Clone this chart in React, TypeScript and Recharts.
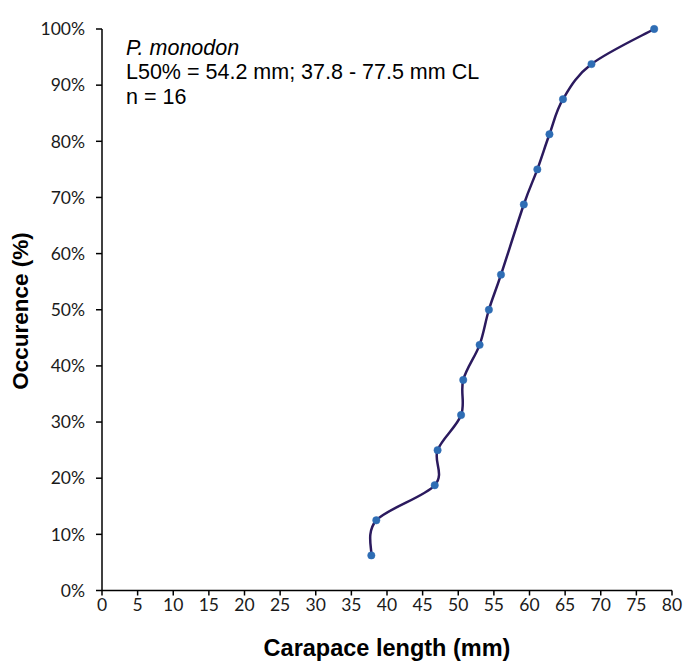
import React from 'react';
import { LineChart, Line, XAxis, YAxis } from 'recharts';

const lengths = [37.8, 38.5, 46.7, 47.1, 50.4, 50.7, 53.0, 54.3, 56.0, 59.2, 61.1, 62.8, 64.7, 68.7, 77.5];
const occurrence = [6.25, 12.5, 18.75, 25, 31.25, 37.5, 43.75, 50, 56.25, 68.75, 75, 81.25, 87.5, 93.75, 100];
const xTicks = [0, 5, 10, 15, 20, 25, 30, 35, 40, 45, 50, 55, 60, 65, 70, 75, 80];
const yTicks = [0, 10, 20, 30, 40, 50, 60, 70, 80, 90, 100];
const annotation = ['P. monodon', 'L50% = 54.2 mm; 37.8 - 77.5 mm CL', 'n = 16'];
const xTitle = 'Carapace length (mm)';
const yTitle = 'Occurence (%)';

const data = lengths.map((x, i) => ({ x, y: occurrence[i] }));

// Excel-like smoothed line (Catmull-Rom through points)
const smoothCurve = (context: any) => {
  let pts: number[][] = [];
  return {
    areaStart() {},
    areaEnd() {},
    lineStart() {
      pts = [];
    },
    point(x: number, y: number) {
      pts.push([+x, +y]);
    },
    lineEnd() {
      const n = pts.length;
      if (!n) return;
      context.moveTo(pts[0][0], pts[0][1]);
      if (n === 2) {
        context.lineTo(pts[1][0], pts[1][1]);
        return;
      }
      for (let i = 0; i < n - 1; i++) {
        const p0 = pts[i - 1] || pts[i];
        const p1 = pts[i];
        const p2 = pts[i + 1];
        const p3 = pts[i + 2] || pts[i + 1];
        context.bezierCurveTo(
          p1[0] + (p2[0] - p0[0]) / 6,
          p1[1] + (p2[1] - p0[1]) / 6,
          p2[0] - (p3[0] - p1[0]) / 6,
          p2[1] - (p3[1] - p1[1]) / 6,
          p2[0],
          p2[1]
        );
      }
    },
  };
};

const tickFont = { fontFamily: 'Lato, sans-serif', fontSize: 17.5, fill: '#1a1a1a' };
const annoStyle = { fontFamily: 'Liberation Sans, Arial, sans-serif', fontSize: 21.5, fill: '#000' };
const titleStyle = { fontFamily: 'Liberation Sans, Arial, sans-serif', fontWeight: 700, fill: '#000' };

export default function App() {
  return (
    <div style={{ position: 'fixed', left: 0, top: 0, width: 686, height: 664, background: '#fff' }}>
      <LineChart width={686} height={664} data={data} margin={{ top: 29, right: 14, left: 42, bottom: 33.5 }}>
        <XAxis
          dataKey="x"
          type="number"
          domain={[0, 80]}
          ticks={xTicks}
          interval={0}
          tickSize={5}
          tickMargin={3}
          height={40}
          axisLine={{ stroke: '#000', strokeWidth: 1.5 }}
          tickLine={{ stroke: '#000', strokeWidth: 1.5 }}
          tick={tickFont}
        />
        <YAxis
          type="number"
          domain={[0, 100]}
          ticks={yTicks}
          interval={0}
          width={60}
          tickSize={6}
          tickMargin={11}
          tickFormatter={(v: number) => `${v}%`}
          axisLine={{ stroke: '#000', strokeWidth: 1.5 }}
          tickLine={{ stroke: '#000', strokeWidth: 1.5 }}
          tick={tickFont}
        />
        <Line
          dataKey="y"
          type={smoothCurve as any}
          stroke="#2b1a5e"
          strokeWidth={2.5}
          dot={{ r: 3.7, fill: '#2e6db4', stroke: '#2e6db4', strokeWidth: 0.5 }}
          isAnimationActive={false}
        />
        <text x={126} y={55} style={{ ...annoStyle, fontStyle: 'italic' }}>
          {annotation[0]}
        </text>
        <text x={126} y={79} style={annoStyle}>
          {annotation[1]}
        </text>
        <text x={126} y={104} style={annoStyle}>
          {annotation[2]}
        </text>
        <text x={387} y={656} textAnchor="middle" style={{ ...titleStyle, fontSize: 23.5 }}>
          {xTitle}
        </text>
        <text
          x={20}
          y={311}
          textAnchor="middle"
          dominantBaseline="central"
          transform="rotate(-90, 20, 311)"
          style={{ ...titleStyle, fontSize: 22.5 }}
        >
          {yTitle}
        </text>
      </LineChart>
    </div>
  );
}
